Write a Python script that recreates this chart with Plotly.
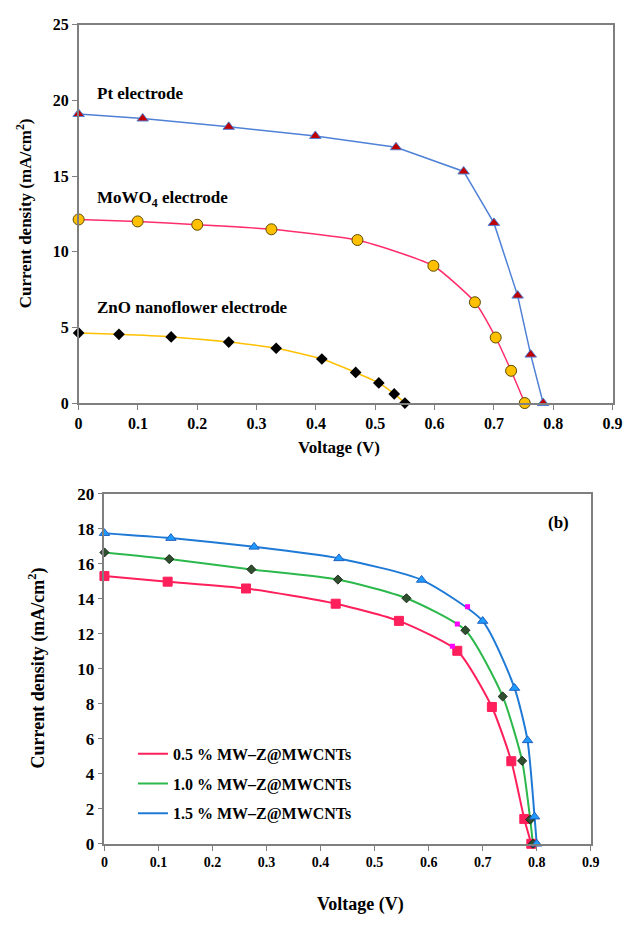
import plotly.graph_objects as go

# ---- Panel (a) data ----
pt_v = [0, 0.108, 0.253, 0.399, 0.535, 0.649, 0.700, 0.740, 0.762, 0.783]
pt_j = [19.1, 18.8, 18.25, 17.65, 16.9, 15.3, 11.9, 7.1, 3.2, 0]
mo_v = [0, 0.0995, 0.200, 0.325, 0.470, 0.598, 0.668, 0.703, 0.729, 0.752]
mo_j = [12.13, 12.0, 11.78, 11.48, 10.77, 9.07, 6.66, 4.33, 2.13, 0]
zn_v = [0, 0.068, 0.156, 0.253, 0.333, 0.410, 0.467, 0.506, 0.532, 0.550]
zn_j = [4.63, 4.54, 4.37, 4.03, 3.62, 2.91, 2.02, 1.33, 0.60, 0]

# ---- Panel (b) data ----
r_v = [0, 0.117, 0.262, 0.428, 0.545, 0.653, 0.717, 0.753, 0.777, 0.790]
r_j = [15.30, 14.98, 14.59, 13.72, 12.74, 11.03, 7.82, 4.72, 1.42, 0]
g_v = [0, 0.120, 0.272, 0.432, 0.559, 0.668, 0.737, 0.773, 0.788, 0.793]
g_j = [16.65, 16.27, 15.68, 15.10, 14.03, 12.2, 8.42, 4.74, 1.38, 0]
b_v = [0, 0.123, 0.277, 0.434, 0.587, 0.700, 0.759, 0.783, 0.796, 0.800]
b_j = [17.75, 17.47, 16.97, 16.31, 15.08, 12.73, 8.90, 5.91, 1.55, 0]
mp_v = [0.644, 0.653, 0.672]
mp_j = [11.29, 12.56, 13.55]

labels_b = ["0.5 % MW–Z@MWCNTs", "1.0 % MW–Z@MWCNTs", "1.5 % MW–Z@MWCNTs"]
labels_a = ["Pt electrode", "MoWO<sub>4</sub> electrode", "ZnO nanoflower electrode"]

FONT = "Liberation Serif"
W, H = 634, 925

fig = go.Figure()

# Panel (a)
fig.add_trace(go.Scatter(x=pt_v, y=pt_j, mode="lines+markers", xaxis="x", yaxis="y",
                         line=dict(color="#4F81D6", width=1.5),
                         marker=dict(symbol="triangle-up", size=10, color="#C00000",
                                     line=dict(color="#4F81D6", width=1)),
                         showlegend=False, cliponaxis=False))
fig.add_trace(go.Scatter(x=mo_v, y=mo_j, mode="lines+markers", xaxis="x", yaxis="y",
                         line=dict(color="#FF2D6B", width=1.5, shape="spline", smoothing=0.5),
                         marker=dict(symbol="circle", size=11, color="#FFC000",
                                     line=dict(color="#5a4a00", width=1)),
                         showlegend=False, cliponaxis=False))
fig.add_trace(go.Scatter(x=zn_v, y=zn_j, mode="lines+markers", xaxis="x", yaxis="y",
                         line=dict(color="#FFC000", width=1.5, shape="spline", smoothing=0.5),
                         marker=dict(symbol="diamond", size=9, color="#000000"),
                         showlegend=False, cliponaxis=False))

# Panel (b)
series_b = [(r_v, r_j, "#FF1F5A", "square", 9, "#FF1F5A", "#FF1F5A"),
            (g_v, g_j, "#2DB84C", "diamond", 7, "#2F4F2F", "#1a2a1a"),
            (b_v, b_j, "#1F7AD6", "triangle-up", 9, "#1E9BFF", "#1F5FC0")]
for i, ((xv, yv, lc, sym, sz, mc, ml), lab) in enumerate(zip(series_b, labels_b)):
    fig.add_trace(go.Scatter(x=xv, y=yv, mode="lines", xaxis="x2", yaxis="y2",
                             line=dict(color=lc, width=2, shape="spline", smoothing=0.6),
                             name=lab, legendgroup=f"g{i}", showlegend=True, cliponaxis=False))
for (xv, yv, lc, sym, sz, mc, ml), lab in zip(series_b, labels_b):
    fig.add_trace(go.Scatter(x=xv, y=yv, mode="markers", xaxis="x2", yaxis="y2",
                             marker=dict(symbol=sym, size=sz, color=mc, line=dict(color=ml, width=1)),
                             showlegend=False, cliponaxis=False))
fig.add_trace(go.Scatter(x=mp_v, y=mp_j, mode="markers", xaxis="x2", yaxis="y2",
                         marker=dict(symbol="square", size=5, color="#FF00FF"),
                         showlegend=False, cliponaxis=False))

axis_common = dict(showline=True, linecolor="#7f7f7f", linewidth=1.5, mirror=True,
                   showgrid=False, zeroline=False, ticks="outside", ticklen=5,
                   tickcolor="#7f7f7f", tickwidth=1)

ax_l, ax_r, ax_t, ax_b = 76.3, 622.3, 16, 402.3
bx_l, bx_r, bx_t, bx_b = 102.7, 600, 495, 852.3

fig.update_layout(
    width=W, height=H, margin=dict(l=0, r=0, t=0, b=0),
    paper_bgcolor="white", plot_bgcolor="white",
    font=dict(family=FONT, color="black", size=16, weight="bold"),
    xaxis=dict(domain=[ax_l / W, ax_r / W], range=[0, 0.9], dtick=0.1, tick0=0,
               anchor="y", tickfont=dict(size=16, family=FONT, weight="bold"), **axis_common),
    yaxis=dict(domain=[1 - ax_b / H, 1 - ax_t / H], range=[0, 25], dtick=5,
               anchor="x", tickfont=dict(size=16, family=FONT, weight="bold"), **axis_common),
    xaxis2=dict(domain=[bx_l / W, bx_r / W], range=[0, 0.9], dtick=0.1, tick0=0,
                anchor="y2", tickfont=dict(size=14, family=FONT, weight="bold"), **axis_common),
    yaxis2=dict(domain=[1 - bx_b / H, 1 - bx_t / H], range=[0, 20], dtick=2,
                anchor="x2", tickfont=dict(size=17, family=FONT, weight="bold"), **axis_common),
    legend=dict(x=0.208, y=1 - 743 / H, xanchor="left", yanchor="top",
                bgcolor="rgba(0,0,0,0)", font=dict(size=16, family=FONT, weight="bold"),
                tracegroupgap=6, itemwidth=30),
)

ann = []
def A(text, x, y, size, xanchor="left", angle=0):
    ann.append(dict(text=text, x=x / W, y=1 - y / H, xref="paper", yref="paper",
                    xanchor=xanchor, yanchor="middle", showarrow=False, textangle=angle,
                    font=dict(size=size, family=FONT, weight="bold", color="black")))

A(labels_a[0], 93, 86, 17)
A(labels_a[1], 93, 194, 17)
A(labels_a[2], 93, 305, 17)
A("Current density (mA/cm<sup>2</sup>)", 20, 209, 17, "center", -90)
A("Voltage (V)", 343, 448, 17, "center")
A("(b)", 567, 524, 17, "center")
A("Current density (mA/cm<sup>2</sup>)", 34, 673, 18, "center", -90)
A("Voltage (V)", 365, 914, 18, "center")
fig.update_layout(annotations=ann)

fig.write_html("out.html")
